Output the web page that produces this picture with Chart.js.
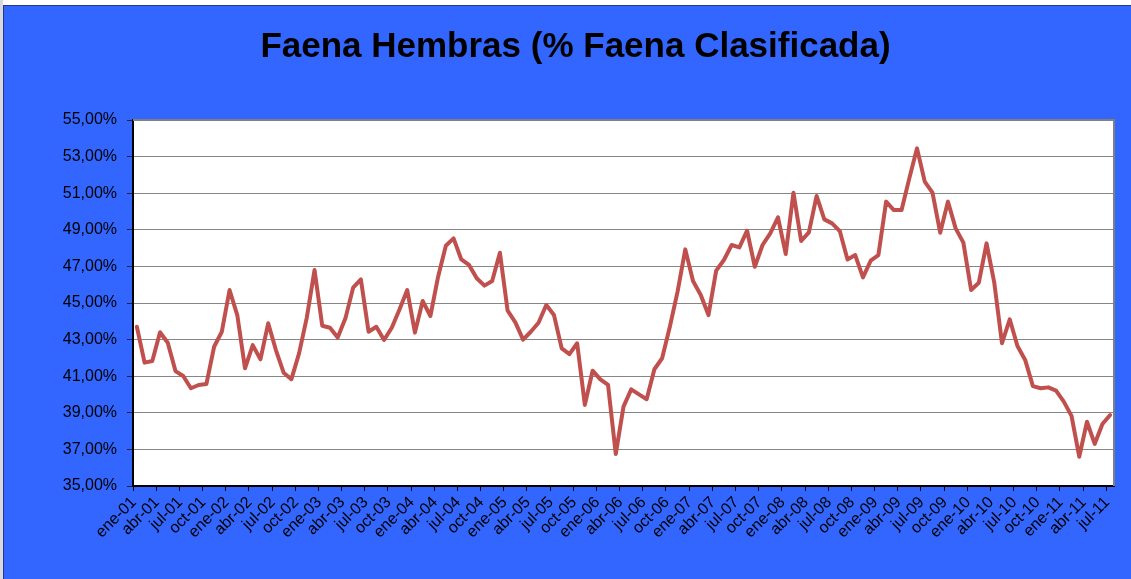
<!DOCTYPE html>
<html>
<head>
<meta charset="utf-8">
<script src="https://cdn.jsdelivr.net/npm/chart.js@4.4.1/dist/chart.umd.min.js"></script>
<style>
  html, body { margin: 0; padding: 0; background: #ffffff; overflow: hidden; }
  #wrap { position: absolute; left: 0; top: 0; width: 1131px; height: 579px; }
</style>
</head>
<body>
<div id="wrap"><canvas id="c" width="1131" height="579"></canvas></div>
<script>
// ---- Data ----
const monthNames = ['ene','feb','mar','abr','may','jun','jul','ago','sep','oct','nov','dic'];
const years = ['01','02','03','04','05','06','07','08','09','10','11'];

const v2001 = [43.70, 41.74, 41.83, 43.40, 42.83, 41.28, 41.01, 40.34, 40.52, 40.57, 42.61, 43.43];
const v2002 = [45.71, 44.34, 41.43, 42.70, 41.92, 43.89, 42.43, 41.19, 40.83, 42.25, 44.20, 46.80];
const v2003 = [43.76, 43.65, 43.12, 44.16, 45.84, 46.29, 43.43, 43.70, 42.98, 43.65, 44.65, 45.71];
const v2004 = [43.38, 45.11, 44.29, 46.44, 48.13, 48.53, 47.38, 47.08, 46.35, 45.95, 46.20, 47.75];
const v2005 = [44.58, 43.94, 43.00, 43.43, 43.92, 44.89, 44.34, 42.52, 42.21, 42.80, 39.43, 41.30];
const v2006 = [40.83, 40.52, 36.75, 39.34, 40.28, 40.01, 39.74, 41.38, 41.98, 43.70, 45.62, 47.93];
const v2007 = [46.20, 45.44, 44.34, 46.77, 47.35, 48.17, 48.04, 48.95, 46.98, 48.17, 48.81, 49.68];
const v2008 = [47.68, 51.03, 48.39, 48.86, 50.85, 49.57, 49.35, 48.93, 47.38, 47.62, 46.40, 47.31];
const v2009 = [47.62, 50.54, 50.08, 50.08, 51.81, 53.45, 51.63, 51.03, 48.84, 50.54, 49.08, 48.30];
const v2010 = [45.71, 46.11, 48.26, 46.11, 42.80, 44.11, 42.65, 41.89, 40.46, 40.34, 40.39, 40.21];
const v2011 = [39.61, 38.83, 36.60, 38.51, 37.30, 38.39, 38.88];

const yTicks = [35, 37, 39, 41, 43, 45, 47, 49, 51, 53, 55];

const values = [].concat(v2001, v2002, v2003, v2004, v2005, v2006, v2007, v2008, v2009, v2010, v2011);
const categories = [];
years.forEach(y => monthNames.forEach(m => categories.push(m + '-' + y)));
categories.length = values.length;

// ---- Plugins ----
const bgPlugin = {
  id: 'bg',
  beforeDraw(chart) {
    const ctx = chart.ctx;
    const W = chart.width, H = chart.height;
    ctx.save();
    ctx.fillStyle = '#ffffff';
    ctx.fillRect(0, 0, W, H);
    ctx.fillStyle = '#d9d9e0';
    ctx.fillRect(0, 0, 3, H);
    ctx.fillStyle = '#3366ff';
    ctx.fillRect(3, 5, W - 3, H - 5);
    ctx.fillStyle = '#1f3a8a';
    ctx.fillRect(3, 5, W - 3, 1);
    ctx.fillRect(3, 5, 1, H - 5);
    const a = chart.chartArea;
    ctx.fillStyle = '#ffffff';
    ctx.fillRect(a.left, a.top, a.right - a.left, a.bottom - a.top);
    ctx.restore();
  },
  afterDraw(chart) {
    const ctx = chart.ctx;
    const a = chart.chartArea;
    ctx.save();
    ctx.strokeStyle = '#808080';
    ctx.lineWidth = 2;
    ctx.beginPath();
    ctx.moveTo(a.left, a.top);
    ctx.lineTo(a.right, a.top);
    ctx.lineTo(a.right, a.bottom);
    ctx.stroke();
    ctx.restore();
  }
};

const numFmt = v => v.toFixed(2).replace('.', ',') + '%';
const tickFont = { family: '"Liberation Sans", Arial, sans-serif', size: 16 };

new Chart(document.getElementById('c'), {
  type: 'line',
  data: {
    labels: categories,
    datasets: [{
      label: 'Faena Hembras',
      data: values,
      borderColor: '#c0504d',
      backgroundColor: '#c0504d',
      borderWidth: 4,
      pointRadius: 0,
      tension: 0,
      borderJoinStyle: 'round',
      borderCapStyle: 'round',
      fill: false
    }]
  },
  options: {
    responsive: false,
    animation: false,
    devicePixelRatio: 1,
    layout: { padding: { top: 20, left: 37, right: 17, bottom: 0 } },
    plugins: {
      legend: { display: false },
      tooltip: { enabled: false },
      title: {
        display: true,
        text: 'Faena Hembras (% Faena Clasificada)',
        color: '#000000',
        font: { family: '"Liberation Sans", Arial, sans-serif', size: 35, weight: 'bold', lineHeight: 1.2 },
        padding: { top: 6, bottom: 52 }
      }
    },
    scales: {
      x: {
        type: 'category',
        offset: true,
        afterFit(scale) { scale.height = 93; },
        grid: {
          offset: true,
          drawOnChartArea: false,
          drawTicks: true,
          tickLength: 5,
          tickWidth: 1,
          tickColor: ctx => (ctx.index !== undefined && ctx.index % 3 === 0) ? '#000000' : 'rgba(0,0,0,0)'
        },
        border: { display: true, color: '#000000', width: 2 },
        ticks: {
          autoSkip: false,
          maxRotation: 45,
          minRotation: 45,
          padding: 2,
          labelOffset: -3,
          color: '#000000',
          font: tickFont,
          callback: function(val, idx) { return idx % 3 === 0 ? this.getLabelForValue(val) : ''; }
        }
      },
      y: {
        min: 35,
        max: 55,
        afterFit(scale) { scale.width = 96; },
        afterBuildTicks(scale) { scale.ticks = yTicks.map(v => ({ value: v })); },
        grid: {
          color: '#868686',
          lineWidth: 1,
          drawTicks: true,
          tickLength: 6,
          tickColor: '#222244'
        },
        border: { display: true, color: '#000000', width: 2 },
        ticks: {
          padding: 10,
          color: '#000000',
          font: tickFont,
          callback: v => numFmt(v)
        }
      }
    }
  },
  plugins: [bgPlugin]
});
</script>
</body>
</html>
